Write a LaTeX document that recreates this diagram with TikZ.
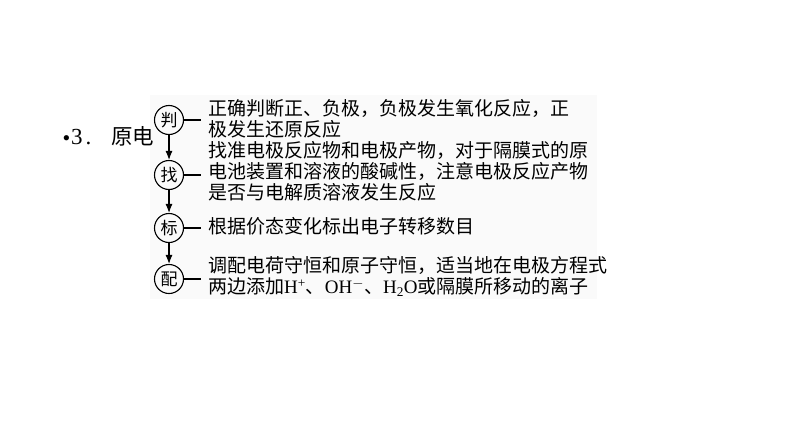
\documentclass[tikz,border=0pt]{standalone}
\usepackage{fontspec}
\setmainfont{Liberation Serif}
\newfontfamily\cjk{Noto Sans CJK SC}
\usetikzlibrary{arrows.meta}
\begin{document}
\begin{tikzpicture}[x=1pt,y=-1pt,
  stepcircle/.style={draw,circle,minimum size=29pt,inner sep=0pt,line width=1.1pt,font=\cjk\fontsize{17}{17}\selectfont},
  desc/.style={anchor=west,inner sep=0pt,align=left,font=\cjk\fontsize{19}{21}\selectfont},
  link/.style={line width=1.1pt,shorten >=7pt},
  flow/.style={line width=1.1pt,-{Latex[length=9pt,width=7pt]}}]
\useasboundingbox (0,0) rectangle (794,447);
\fill[black!2] (150,95) rectangle (597,299);
% title
\node[inner sep=0pt,font=\fontsize{22}{22}\selectfont] (bul) at (66.5,141) {•};
\node[anchor=base west,inner sep=0pt,font=\fontsize{23}{23}\selectfont] (num) at (71,144) {3\kern3pt.};
\node[anchor=west,inner sep=0pt,font=\cjk\fontsize{21.5}{21.5}\selectfont] (ttl) at (111,136) {原电};
% steps
\node[stepcircle] (p) at (169,120) {判};
\node[stepcircle] (z) at (169,175) {找};
\node[stepcircle] (b) at (169,228) {标};
\node[stepcircle] (f) at (169,279) {配};
% texts
\node[desc] (tp) at (208,118.5) {正确判断正、负极，负极发生氧化反应，正\\极发生还原反应};
\node[desc] (tz) at (208,171) {找准电极反应物和电极产物，对于隔膜式的原\\电池装置和溶液的酸碱性，注意电极反应产物\\是否与电解质溶液发生反应};
\node[desc] (tb) at (208,226) {根据价态变化标出电子转移数目};
\node[desc] (tf) at (208,276.5) {调配电荷守恒和原子守恒，适当地在电极方程式\\[0.5pt]两边添加{\rmfamily H\textsuperscript{+}}、{\rmfamily OH$^{-}$}、{\rmfamily H\textsubscript{2}O}或隔膜所移动的离子};
% connectors
\draw[link] (p.east) -- (p.east -| tp.west);
\draw[link] (z.east) -- (z.east -| tz.west);
\draw[link] (b.east) -- (b.east -| tb.west);
\draw[link] (f.east) -- (f.east -| tf.west);
\draw[flow] (p) -- (z);
\draw[flow] (z) -- (b);
\draw[flow] (b) -- (f);
\end{tikzpicture}
\end{document}
